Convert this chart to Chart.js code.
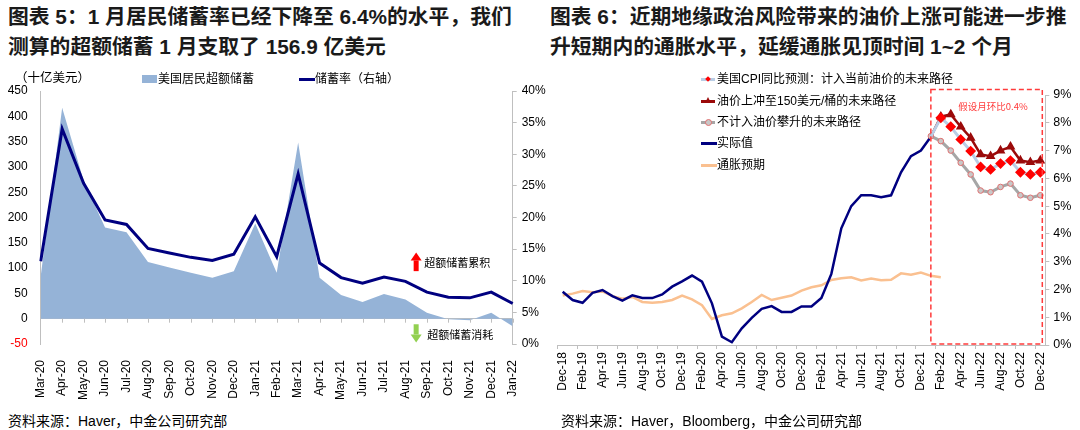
<!DOCTYPE html>
<html>
<head>
<meta charset="utf-8">
<script src="https://cdn.jsdelivr.net/npm/chart.js@4.4.1/dist/chart.umd.min.js"></script>
<style>
  body { margin: 0; width: 1080px; height: 430px; background: #fff; position: relative; overflow: hidden;
         font-family: "Liberation Sans", Arial, "Noto Sans CJK SC", sans-serif; color: #000; }
  .title { position: absolute; top: 2px; font-weight: bold; font-size: 20.8px; line-height: 30px; color: #1a1a1a; white-space: nowrap; }
  .src { position: absolute; top: 410px; font-size: 14px; white-space: nowrap; }
  canvas { position: absolute; top: 60px; }
  .lg { position: absolute; font-size: 12px; white-space: nowrap; line-height: 14px; }
  .mk { position: absolute; }
</style>
</head>
<body>
<div class="title" style="left:8px">图表 5：1 月居民储蓄率已经下降至 6.4%的水平，我们<br>测算的超额储蓄 1 月支取了 156.9 亿美元</div>
<div class="title" style="left:550px">图表 6：近期地缘政治风险带来的油价上涨可能进一步推<br>升短期内的通胀水平，延缓通胀见顶时间 1~2 个月</div>

<canvas id="savingsChart" width="550" height="345" style="left:0;width:550px;height:345px"></canvas>
<canvas id="cpiChart" width="532" height="345" style="left:548px;width:532px;height:345px"></canvas>

<!-- left legend -->
<div class="lg" style="left:15px;top:71px;font-size:12.5px">（十亿美元）</div>
<div class="mk" style="left:142px;top:75px;width:15px;height:8px;background:#95B3D7"></div>
<div class="lg" style="left:158px;top:72px">美国居民超额储蓄</div>
<div class="mk" style="left:299px;top:78px;width:16px;height:3px;background:#000080"></div>
<div class="lg" style="left:315px;top:72px">储蓄率（右轴）</div>

<!-- right legend -->
<div class="mk" style="left:701px;top:78px;width:14px;height:3px;background:#B9CDE5"></div>
<div class="mk" style="left:705.5px;top:77px;width:4px;height:4px;background:#ff0000;transform:rotate(45deg)"></div>
<div class="lg" style="left:717px;top:72px">美国CPI同比预测：计入当前油价的未来路径</div>
<div class="mk" style="left:701px;top:99.5px;width:14px;height:3px;background:#9B0A0A"></div>
<div class="mk" style="left:704.5px;top:96.5px;width:0;height:0;border-left:3.5px solid transparent;border-right:3.5px solid transparent;border-bottom:6px solid #9B0A0A"></div>
<div class="lg" style="left:717px;top:93.5px">油价上冲至150美元/桶的未来路径</div>
<div class="mk" style="left:701px;top:121px;width:14px;height:3px;background:#A6A6A6"></div>
<div class="mk" style="left:704.5px;top:119px;width:5px;height:5px;border-radius:50%;background:#c8c8c8;border:1px solid #e07070"></div>
<div class="lg" style="left:717px;top:115px">不计入油价攀升的未来路径</div>
<div class="mk" style="left:701px;top:142px;width:16px;height:3px;background:#000080"></div>
<div class="lg" style="left:717px;top:136px">实际值</div>
<div class="mk" style="left:701px;top:164px;width:16px;height:3px;background:#FAC090"></div>
<div class="lg" style="left:717px;top:158px">通胀预期</div>

<div class="src" style="left:8px">资料来源：Haver，中金公司研究部</div>
<div class="src" style="left:561px">资料来源：Haver，Bloomberg，中金公司研究部</div>

<script>
// left chart: excess savings (bn USD) and saving rate (%)
const monthsA = ['Mar-20', 'Apr-20', 'May-20', 'Jun-20', 'Jul-20', 'Aug-20', 'Sep-20', 'Oct-20', 'Nov-20', 'Dec-20',
  'Jan-21', 'Feb-21', 'Mar-21', 'Apr-21', 'May-21', 'Jun-21', 'Jul-21', 'Aug-21', 'Sep-21', 'Oct-21', 'Nov-21', 'Dec-21', 'Jan-22'];
const excessSavings = [84, 417, 273, 180, 171, 112, 101, 91, 81, 94, 188, 91, 348, 81, 47, 33, 49, 38, 12, -1, -3, 12, -15];
const savingsRate = [13.1, 34.0, 25.4, 19.6, 18.9, 15.1, 14.4, 13.7, 13.2, 14.2, 20.1, 13.8, 26.9, 12.8, 10.5, 9.6, 10.6, 9.9, 8.2, 7.4, 7.3, 8.2, 6.4];
const leftTicks = [-50, 0, 50, 100, 150, 200, 250, 300, 350, 400, 450];

// right chart: CPI yoy (%)
const monthsB = ['Dec-18', 'Jan-19', 'Feb-19', 'Mar-19', 'Apr-19', 'May-19', 'Jun-19', 'Jul-19', 'Aug-19', 'Sep-19', 'Oct-19', 'Nov-19',
  'Dec-19', 'Jan-20', 'Feb-20', 'Mar-20', 'Apr-20', 'May-20', 'Jun-20', 'Jul-20', 'Aug-20', 'Sep-20', 'Oct-20', 'Nov-20',
  'Dec-20', 'Jan-21', 'Feb-21', 'Mar-21', 'Apr-21', 'May-21', 'Jun-21', 'Jul-21', 'Aug-21', 'Sep-21', 'Oct-21', 'Nov-21',
  'Dec-21', 'Jan-22', 'Feb-22', 'Mar-22', 'Apr-22', 'May-22', 'Jun-22', 'Jul-22', 'Aug-22', 'Sep-22', 'Oct-22', 'Nov-22', 'Dec-22'];
const cpiActual = [1.92, 1.62, 1.52, 1.88, 1.98, 1.76, 1.6, 1.79, 1.69, 1.69, 1.82, 2.1, 2.29, 2.5, 2.28, 1.5, 0.3, 0.1,
  0.6, 0.98, 1.3, 1.4, 1.19, 1.19, 1.39, 1.39, 1.69, 2.56, 4.2, 5.0, 5.39, 5.39, 5.32, 5.39, 6.22, 6.8, 7.0, 7.5];
const inflationExp = [1.78, 1.85, 1.94, 1.9, 1.93, 1.76, 1.67, 1.73, 1.55, 1.52, 1.55, 1.62, 1.78, 1.64, 1.43, 0.94, 1.07, 1.14,
  1.32, 1.55, 1.8, 1.62, 1.7, 1.78, 1.96, 2.08, 2.15, 2.34, 2.4, 2.44, 2.32, 2.39, 2.33, 2.35, 2.58, 2.53, 2.61, 2.49, 2.44];
const fcMonths = ['Jan-22', 'Feb-22', 'Mar-22', 'Apr-22', 'May-22', 'Jun-22', 'Jul-22', 'Aug-22', 'Sep-22', 'Oct-22', 'Nov-22', 'Dec-22'];
const fcCurrentOil = [7.5, 8.18, 7.86, 7.4, 6.98, 6.41, 6.32, 6.53, 6.64, 6.22, 6.14, 6.22];
const fcOil150 = [7.5, 8.22, 8.3, 7.86, 7.46, 6.86, 6.8, 7.0, 7.14, 6.64, 6.58, 6.64];
const fcNoOil = [7.52, 7.34, 7.0, 6.56, 6.14, 5.56, 5.5, 5.69, 5.81, 5.39, 5.3, 5.39];
const rightTicks = [0, 1, 2, 3, 4, 5, 6, 7, 8, 9];

Chart.defaults.font.family = '"Liberation Sans", Arial, "Noto Sans CJK SC", sans-serif';
Chart.defaults.color = '#000';

const fcPoints = vals => vals.map((v, i) => ({ x: fcMonths[i], y: v }));

function arrow(ctx, x, yTail, yHead, color) {
  const dir = yHead < yTail ? -1 : 1;
  const head = 8;
  ctx.fillStyle = color;
  ctx.fillRect(x - 2.5, Math.min(yTail, yHead - dir * head), 5, Math.abs(yTail - (yHead - dir * head)));
  ctx.beginPath();
  ctx.moveTo(x - 5.5, yHead - dir * head);
  ctx.lineTo(x + 5.5, yHead - dir * head);
  ctx.lineTo(x, yHead);
  ctx.closePath();
  ctx.fill();
}

// arrows + notes on the savings chart, small inner ticks on the zero line
const savingsNotes = {
  id: 'savingsNotes',
  afterDatasetsDraw(chart) {
    const { ctx, scales: { x, y } } = chart;
    const zero = y.getPixelForValue(0);
    ctx.save();
    ctx.strokeStyle = '#bfbfbf';
    ctx.lineWidth = 1;
    ctx.beginPath();
    for (let i = 1; i < monthsA.length; i++) {
      const px = Math.round(x.getPixelForValue(i)) + 0.5;
      ctx.moveTo(px, zero);
      ctx.lineTo(px, zero + 4);
    }
    ctx.stroke();
    const ax = x.getPixelForValue(17.5);
    arrow(ctx, ax, y.getPixelForValue(94), y.getPixelForValue(131), '#ff0000');
    arrow(ctx, ax, y.getPixelForValue(-11), y.getPixelForValue(-47), '#92D050');
    ctx.fillStyle = '#000';
    ctx.font = '11px "Noto Sans CJK SC", sans-serif';
    ctx.textBaseline = 'middle';
    ctx.fillText('超额储蓄累积', ax + 8, y.getPixelForValue(111));
    ctx.fillText('超额储蓄消耗', ax + 11, y.getPixelForValue(-31));
    ctx.restore();
  }
};

// dashed scenario box on the CPI chart
const scenarioBox = {
  id: 'scenarioBox',
  afterDatasetsDraw(chart) {
    const { ctx, chartArea, scales: { x, y } } = chart;
    const l = x.getPixelForValue(37), r = chartArea.right - 3;
    const t = y.getPixelForValue(9.2), b = y.getPixelForValue(0) - 1;
    ctx.save();
    ctx.strokeStyle = '#ff3b3b';
    ctx.lineWidth = 1.5;
    ctx.setLineDash([5, 3]);
    ctx.strokeRect(l, t, r - l, b - t);
    ctx.fillStyle = '#ff3b3b';
    ctx.font = '9.5px "Noto Sans CJK SC", sans-serif';
    ctx.textAlign = 'center';
    ctx.textBaseline = 'middle';
    ctx.fillText('假设月环比0.4%', x.getPixelForValue(43.25), y.getPixelForValue(8.6));
    ctx.restore();
  }
};

new Chart(document.getElementById('savingsChart'), {
  type: 'line',
  data: {
    labels: monthsA,
    datasets: [{
      label: '储蓄率（右轴）',
      data: savingsRate,
      yAxisID: 'y1',
      borderColor: '#000080',
      borderWidth: 3,
      pointRadius: 0,
      order: 1
    }, {
      label: '美国居民超额储蓄',
      data: excessSavings,
      yAxisID: 'y',
      backgroundColor: '#95B3D7',
      borderWidth: 0,
      fill: 'origin',
      pointRadius: 0,
      order: 2
    }]
  },
  options: {
    responsive: false,
    animation: false,
    layout: { padding: { top: 31 } },
    plugins: { legend: { display: false }, tooltip: { enabled: false } },
    scales: {
      x: {
        offset: false,
        grid: { display: false },
        border: { display: false },
        ticks: { autoSkip: false, minRotation: 90, maxRotation: 90, padding: 8, font: { size: 12 } },
        afterFit: s => { s.height = 61; }
      },
      y: {
        position: 'left',
        min: leftTicks[0],
        max: leftTicks[leftTicks.length - 1],
        afterBuildTicks: s => { s.ticks = leftTicks.map(v => ({ value: v })); },
        ticks: { color: c => c.tick.value < 0 ? '#ff0000' : '#000', padding: 13, font: { size: 12 } },
        grid: { color: c => c.tick.value === 0 ? '#bfbfbf' : 'transparent', drawTicks: false },
        border: { color: '#bfbfbf' },
        afterFit: s => { s.width = 40.7; }
      },
      y1: {
        position: 'right',
        min: 0,
        max: 40,
        ticks: { stepSize: 5, callback: v => v + '%', padding: 5, font: { size: 12 } },
        grid: { drawOnChartArea: false, color: '#bfbfbf', tickLength: 4 },
        border: { color: '#bfbfbf' },
        afterFit: s => { s.width = 37.3; }
      }
    }
  },
  plugins: [savingsNotes]
});

new Chart(document.getElementById('cpiChart'), {
  type: 'line',
  data: {
    labels: monthsB,
    datasets: [{
      label: '美国CPI同比预测：计入当前油价的未来路径',
      data: fcPoints(fcCurrentOil),
      borderColor: '#B9CDE5',
      borderWidth: 3,
      pointStyle: 'rectRot',
      pointRadius: c => c.dataIndex === 0 ? 0 : 3.3,
      pointBackgroundColor: '#ff0000',
      pointBorderColor: '#ff0000'
    }, {
      label: '油价上冲至150美元/桶的未来路径',
      data: fcPoints(fcOil150),
      borderColor: '#9B0A0A',
      borderWidth: 2.5,
      pointStyle: 'triangle',
      pointRadius: c => c.dataIndex === 0 ? 0 : 3.2,
      pointBackgroundColor: '#9B0A0A',
      pointBorderColor: '#9B0A0A'
    }, {
      label: '不计入油价攀升的未来路径',
      data: fcPoints(fcNoOil),
      borderColor: '#A6A6A6',
      borderWidth: 3,
      pointStyle: 'circle',
      pointRadius: 2.8,
      pointBorderWidth: 1,
      pointBackgroundColor: '#c8c8c8',
      pointBorderColor: '#e07070'
    }, {
      label: '实际值',
      data: cpiActual,
      borderColor: '#000080',
      borderWidth: 2.5,
      pointRadius: 0
    }, {
      label: '通胀预期',
      data: inflationExp,
      borderColor: '#FAC090',
      borderWidth: 2.5,
      pointRadius: 0
    }]
  },
  options: {
    responsive: false,
    animation: false,
    layout: { padding: { left: 9.7, top: 35 } },
    plugins: { legend: { display: false }, tooltip: { enabled: false } },
    scales: {
      x: {
        offset: true,
        grid: { offset: true, drawOnChartArea: false, tickLength: 4, color: c => c.index % 2 === 0 ? '#bfbfbf' : 'transparent' },
        border: { color: '#bfbfbf' },
        ticks: {
          autoSkip: false, minRotation: 90, maxRotation: 90, padding: 3, font: { size: 12 },
          callback: function (v, i) { return i % 2 === 0 ? this.getLabelForValue(v) : ''; }
        },
        afterFit: s => { s.height = 60; }
      },
      y: {
        position: 'right',
        min: rightTicks[0],
        max: rightTicks[rightTicks.length - 1],
        ticks: { stepSize: 1, callback: v => v + '%', padding: 4, font: { size: 12.5 } },
        grid: { drawOnChartArea: false, color: '#bfbfbf', tickLength: 4 },
        border: { color: '#bfbfbf' },
        afterFit: s => { s.width = 34.7; }
      }
    }
  },
  plugins: [scenarioBox]
});
</script>
</body>
</html>
